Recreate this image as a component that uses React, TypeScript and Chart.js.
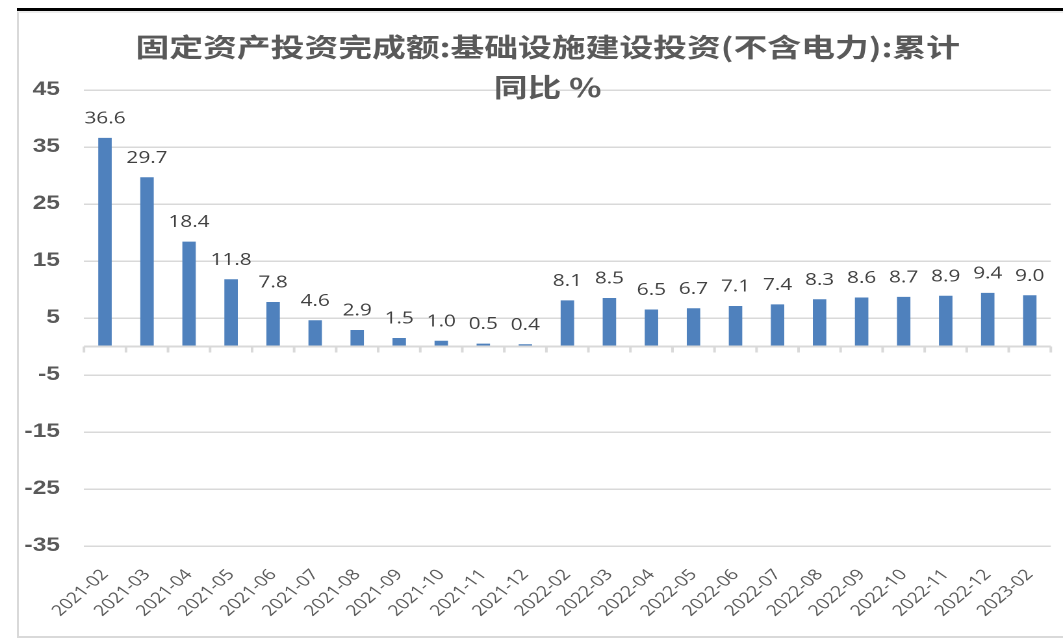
import React, { useEffect, useRef } from "react";
import { Chart, registerables } from "chart.js";

Chart.register(...registerables);

const categories = [
  "2021-02", "2021-03", "2021-04", "2021-05", "2021-06", "2021-07", "2021-08",
  "2021-09", "2021-10", "2021-11", "2021-12", "2022-02", "2022-03", "2022-04",
  "2022-05", "2022-06", "2022-07", "2022-08", "2022-09", "2022-10", "2022-11",
  "2022-12", "2023-02",
];
const values = [
  36.6, 29.7, 18.4, 11.8, 7.8, 4.6, 2.9, 1.5, 1.0, 0.5, 0.4, 8.1, 8.5, 6.5,
  6.7, 7.1, 7.4, 8.3, 8.6, 8.7, 8.9, 9.4, 9.0,
];
const titleLines = ["固定资产投资完成额:基础设施建设投资(不含电力):累计", "同比 %"];
const yMin = -35;
const yMax = 45;
const yStep = 10;

const W = 818;
const H = 639;
const S = 1063 / W;

export default function App() {
  const ref = useRef<HTMLCanvasElement | null>(null);

  useEffect(() => {
    if (!ref.current) return;

    const titlePlugin = {
      id: "titleText",
      afterDraw(chart: any) {
        const ctx = chart.ctx;
        ctx.save();
        ctx.fillStyle = "#595959";
        ctx.font = "bold 26px 'Noto Sans CJK SC'";
        ctx.textAlign = "center";
        ctx.textBaseline = "middle";
        ctx.fillText(titleLines[0], 421.5, 47);
        ctx.fillText(titleLines[1], 421.5, 87);
        ctx.restore();
      },
    };

    const zeroAxisPlugin = {
      id: "zeroAxis",
      afterDatasetsDraw(chart: any) {
        const ctx = chart.ctx;
        const xs = chart.scales.x;
        const ys = chart.scales.y;
        const y0 = ys.getPixelForValue(0);
        const area = chart.chartArea;
        ctx.save();
        ctx.strokeStyle = "#d9d9d9";
        ctx.lineWidth = 2;
        ctx.beginPath();
        ctx.moveTo(area.left, y0);
        ctx.lineTo(area.right, y0);
        const step = xs.getPixelForValue(1) - xs.getPixelForValue(0);
        for (let i = 0; i <= categories.length; i++) {
          const x = xs.getPixelForValue(i) - step / 2;
          ctx.moveTo(x, y0);
          ctx.lineTo(x, y0 + 6);
        }
        ctx.stroke();
        ctx.restore();
      },
    };

    const labelPlugin = {
      id: "barLabels",
      afterDatasetsDraw(chart: any) {
        const ctx = chart.ctx;
        const meta = chart.getDatasetMeta(0);
        ctx.save();
        ctx.fillStyle = "#404040";
        ctx.font = "16px 'Open Sans'";
        ctx.textAlign = "center";
        ctx.textBaseline = "bottom";
        meta.data.forEach((bar: any, i: number) => {
          ctx.fillText(values[i].toFixed(1), bar.x, bar.y - 11);
        });
        ctx.restore();
      },
    };

    const chart = new Chart(ref.current, {
      type: "bar",
      data: {
        labels: categories,
        datasets: [
          {
            data: values,
            backgroundColor: "#4F81BD",
            borderWidth: 0,
            barPercentage: 0.32,
            categoryPercentage: 1,
          },
        ],
      },
      options: {
        responsive: false,
        devicePixelRatio: 2,
        animation: false,
        layout: { padding: { left: 10, top: 90, right: 8.8, bottom: 13 } },
        plugins: {
          legend: { display: false },
          tooltip: { enabled: false },
          title: { display: false },
        },
        scales: {
          x: {
            grid: { display: false },
            border: { display: false },
            ticks: {
              autoSkip: false,
              minRotation: 48,
              maxRotation: 48,
              padding: 12,
              color: "#595959",
              font: { family: "'Open Sans'", size: 15 },
            },
            afterFit(s: any) {
              s.height = 80;
            },
          },
          y: {
            min: yMin,
            max: yMax,
            ticks: {
              stepSize: yStep,
              padding: 18.4,
              color: "#595959",
              font: { family: "'Liberation Sans'", size: 19, weight: "bold" },
            },
            grid: { color: "#d9d9d9", lineWidth: 1.5, drawTicks: false },
            border: { display: false },
            afterFit(s: any) {
              s.width = 54.6;
            },
          },
        },
      },
      plugins: [titlePlugin, zeroAxisPlugin, labelPlugin],
    });

    return () => chart.destroy();
  }, []);

  return (
    <>
      <div
        style={{
          position: "absolute",
          left: 17,
          top: 8,
          width: 1046,
          height: 630,
          boxSizing: "border-box",
          borderTop: "3px solid #000",
        }}
      >
        <div
          style={{
            width: "100%",
            height: "100%",
            boxSizing: "border-box",
            borderLeft: "2px solid #d9d9d9",
            borderBottom: "2px solid #d9d9d9",
            borderTop: "2px solid #ececec",
          }}
        />
      </div>
      <div
        style={{
          position: "absolute",
          left: 0,
          top: 0,
          width: W,
          height: H,
          transform: `scaleX(${S})`,
          transformOrigin: "0 0",
        }}
      >
        <canvas ref={ref} width={W} height={H} style={{ width: W, height: H }} />
      </div>
    </>
  );
}
